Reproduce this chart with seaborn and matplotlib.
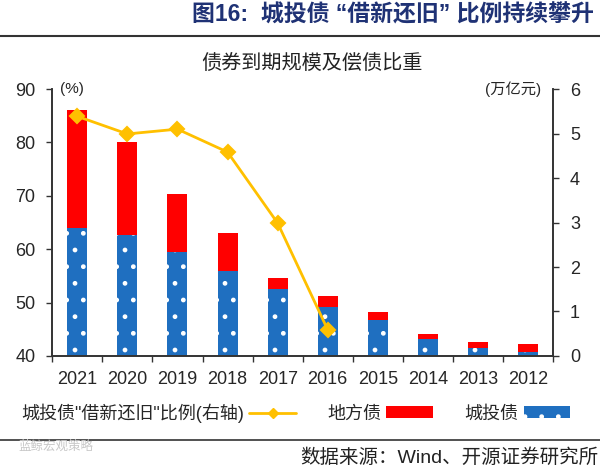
"""Mirrored-layout chart: maturing bond volume (stacked bars) and refinancing ratio (line)."""

import matplotlib

matplotlib.use("Agg")
import matplotlib.pyplot as plt
import pandas as pd
import seaborn as sns
from matplotlib.lines import Line2D
from matplotlib.patches import Patch

# Data (left to right as drawn)
years = ["2021", "2020", "2019", "2018", "2017", "2016", "2015", "2014", "2013", "2012"]
chengtou = [2.87, 2.72, 2.33, 1.92, 1.51, 1.11, 0.81, 0.38, 0.17, 0.08]  # 万亿元
difang = [2.67, 2.10, 1.31, 0.84, 0.24, 0.24, 0.17, 0.11, 0.15, 0.20]  # 万亿元
ratio_years = ["2021", "2020", "2019", "2018", "2017", "2016"]
ratio = [84.9, 81.6, 82.5, 78.2, 64.9, 44.9]  # %

# Colours
blue = "#1F6FC0"
red = "#FF0000"
gold = "#FFC000"
navy = "#1F3275"

sns.set_theme(style="white")
plt.rcParams["font.family"] = ["Liberation Sans", "Noto Sans CJK SC", "DejaVu Sans"]
plt.rcParams["hatch.color"] = "white"
plt.rcParams["hatch.linewidth"] = 1.0

bars = pd.DataFrame(
    {"year": years, "城投债": chengtou, "total": [a + b for a, b in zip(chengtou, difang)]}
)
line_df = pd.DataFrame({"year": ratio_years, "ratio": ratio})

fig = plt.figure(figsize=(6, 4.74), dpi=100)
ax = fig.add_axes([0.087, 0.249, 0.835, 0.563])

# Stacked bars: red total behind, blue part in front
sns.barplot(data=bars, x="year", y="total", order=years, color=red,
            width=0.4, saturation=1, linewidth=0, ax=ax)
sns.barplot(data=bars, x="year", y="城投债", order=years, color=blue,
            width=0.4, saturation=1, linewidth=0, ax=ax)
for p in ax.patches[len(years):]:
    p.set_hatch(".")
    p.set_edgecolor("white")
    p.set_linewidth(0)

ax.set_ylim(0, 6)
ax.set_xlim(-0.5, len(years) - 0.5)
ax.set_yticks(range(0, 7))
ax.set_xlabel("")
ax.set_ylabel("")

# Ratio line on the twin axis, shown on the left
ax2 = ax.twinx()
sns.pointplot(data=line_df, x="year", y="ratio", order=years, color=gold,
              markers="D", markersize=7, linewidth=2, errorbar=None, ax=ax2)
ax2.set_ylim(40, 90)
ax2.set_yticks(range(40, 91, 10))
ax2.set_xlim(-0.5, len(years) - 0.5)
ax2.set_xlabel("")
ax2.set_ylabel("")

# twinx moves the ticks, so set the sides afterwards
ax.yaxis.tick_right()
ax2.yaxis.tick_left()

for a in (ax, ax2):
    for side in ("left", "right", "bottom"):
        a.spines[side].set_visible(True)
        a.spines[side].set_color("#333333")
        a.spines[side].set_linewidth(1.2)
    a.spines["top"].set_visible(False)

ax.tick_params(axis="y", which="major", direction="out", length=4, width=1,
               color="#333333", labelsize=13, pad=8, right=True, left=False,
               labelright=True, labelleft=False)
ax2.tick_params(axis="y", which="major", direction="out", length=4, width=1,
                color="#333333", labelsize=13, pad=8, left=True, right=False,
                labelleft=True, labelright=False)
ax.set_xticks([i - 0.5 for i in range(len(years) + 1)], minor=True)
ax.tick_params(axis="x", which="major", length=0, labelsize=13, pad=11)
ax.tick_params(axis="x", which="minor", direction="out", length=4, width=1,
               color="#333333", bottom=True)
ax.set_xticklabels(years)

# Unit labels
ax.text(0.04, 1.0, "(%)", transform=ax.transAxes, ha="center", va="center",
        fontsize=11)
ax.text(0.92, 1.0, "(万亿元)", transform=ax.transAxes, ha="center", va="center",
        fontsize=11)

# Legend (text before handle, as drawn)
handles = [
    Line2D([0], [0], color=gold, lw=2, marker="D", markersize=5),
    Patch(facecolor=red, edgecolor="none"),
    Patch(facecolor=blue, edgecolor="white", hatch=".", linewidth=0),
]
labels = ['城投债"借新还旧"比例(右轴)', "地方债", "城投债"]
fig.legend(handles, labels, loc="center", bbox_to_anchor=(0.493, 0.129), ncol=3,
           frameon=False, markerfirst=False, fontsize=13, handlelength=2.6,
           handleheight=0.6, handletextpad=0.3, columnspacing=1.7)

# Titles, rules and source
fig.text(0.52, 0.867, "债券到期规模及偿债比重", ha="center", va="center",
         fontsize=14.5, color="#222222")
fig.text(0.99, 0.968, "图16:  城投债 “借新还旧” 比例持续攀升", ha="right",
         va="center", fontsize=16.5, fontweight="bold", color=navy)
fig.add_artist(Line2D([0, 1], [0.924, 0.924], color="#333333", lw=1.5))
fig.add_artist(Line2D([0, 1], [0.072, 0.072], color="#333333", lw=1.2))
fig.text(0.997, 0.034, "数据来源：Wind、开源证券研究所", ha="right", va="center",
         fontsize=14, color="#222222")
fig.text(0.03, 0.057, "蓝鲸宏观策略", ha="left", va="center", fontsize=9,
         color="#c8c8c8")

fig.savefig("out.png", dpi=100)
plt.close(fig)
